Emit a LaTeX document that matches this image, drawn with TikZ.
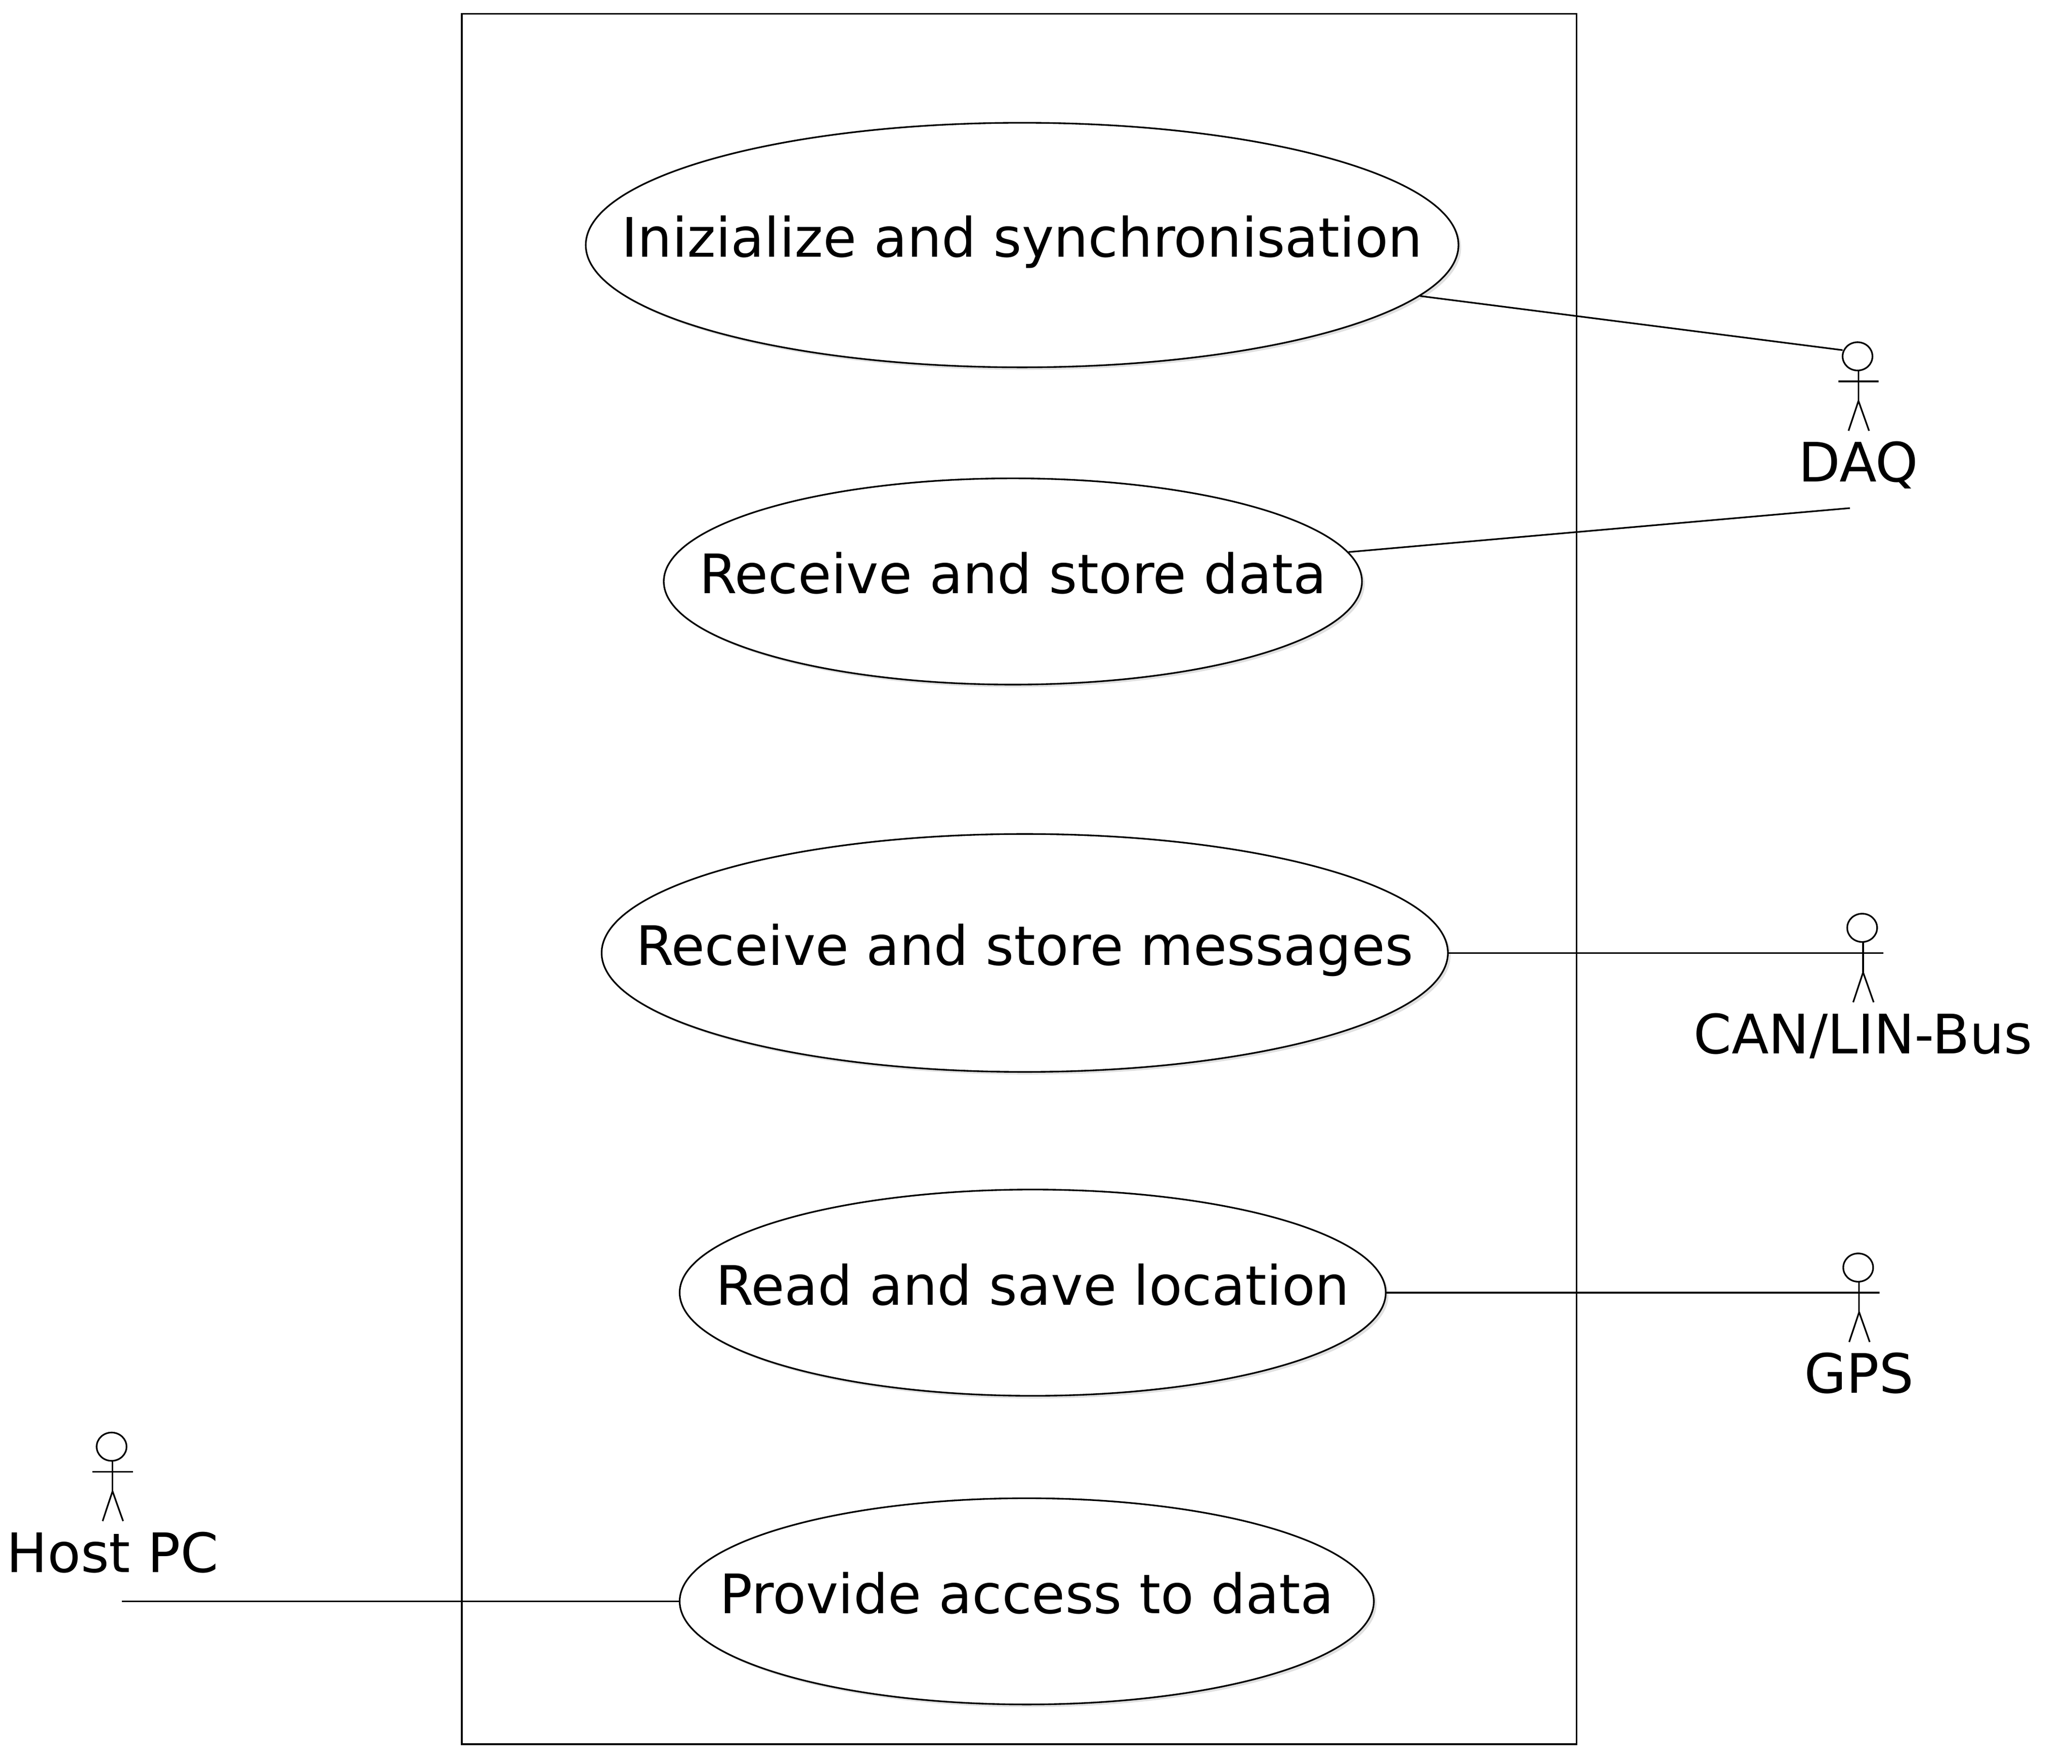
\documentclass[tikz,border=0pt]{standalone}
\usepackage{fontspec}
\setmainfont{DejaVu Sans}
\usetikzlibrary{shapes.geometric,shadows}

\tikzset{
  line/.style={line width=0.35pt},
  usecase/.style={line, draw, ellipse, fill=white, inner sep=0pt,
    drop shadow={shadow xshift=0.02cm, shadow yshift=-0.02cm, opacity=0.12, fill=black}},
  usetext/.style={font=\fontsize{11.7}{14}\selectfont, inner sep=0pt, text height=7.7pt, text depth=2.5pt},
  actor/.pic={
    \draw [line] (-0.007, 0.19) ellipse [x radius=0.113, y radius=0.107];
    \draw [line] (0, 0.083) -- (0, -0.147);
    \draw [line] (-0.153, 0) -- (0.153, 0);
    \draw [line] (-0.075, -0.373) -- (0, -0.147) -- (0.08, -0.373);
    \coordinate (-armr) at (0.153, 0);
    \node [font=\fontsize{11.7}{14}\selectfont, inner sep=0pt, anchor=base] (-name) at (0, -0.76) {\tikzpictext};
  }
}

\begin{document}
\begin{tikzpicture}
\useasboundingbox (0, 0) rectangle (15.67, 13.344);

\node [line, draw, minimum width=8.43cm, minimum height=13.09cm, inner sep=0pt] (system) at (7.708, 6.695) {};

% use cases
\node [usecase, minimum width=6.60cm, minimum height=1.85cm] (useinit) at (7.73, 11.49) {};
\node [usetext] (textinit) at (useinit) {Inizialize and synchronisation};
\node [usecase, minimum width=5.28cm, minimum height=1.56cm] (usedata) at (7.66, 8.945) {};
\node [usetext] (textdata) at (usedata) {Receive and store data};
\node [usecase, minimum width=6.40cm, minimum height=1.80cm] (usemsg) at (7.75, 6.135) {};
\node [usetext] (textmsg) at (usemsg) {Receive and store messages};
\node [usecase, minimum width=5.34cm, minimum height=1.56cm] (useloc) at (7.81, 3.565) {};
\node [usetext] (textloc) at (useloc) {Read and save location};
\node [usecase, minimum width=5.25cm, minimum height=1.56cm] (useaccess) at (7.765, 1.23) {};
\node [usetext] (textaccess) at (useaccess) {Provide access to data};

% actors
\pic [pic text=DAQ] (daq) at (14.055, 10.458) {actor};
\pic [pic text=CAN/LIN-Bus] (can) at (14.09, 6.135) {actor};
\pic [pic text=GPS] (gps) at (14.06, 3.565) {actor};
\pic [pic text=Host PC] (host) at (0.851, 2.21) {actor};

\coordinate (daqhead) at (13.935, 10.695);
\coordinate (daqlow) at (13.99, 9.50);
\coordinate (hostend) at (0.92, 1.23);

\draw [line] (useinit) -- (daqhead);
\draw [line] (usedata) -- (daqlow);
\draw [line] (usemsg) -- (can-armr);
\draw [line] (useloc) -- (gps-armr);
\draw [line] (hostend) -- (useaccess);
\end{tikzpicture}
\end{document}
